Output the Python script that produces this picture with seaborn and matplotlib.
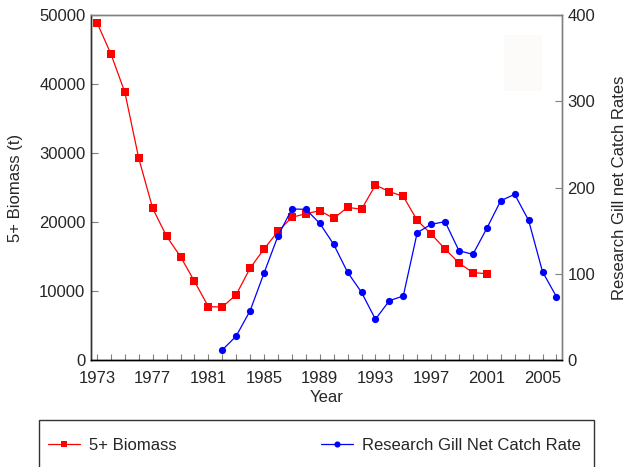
import matplotlib
matplotlib.use("Agg")
import matplotlib.pyplot as plt
from matplotlib.patches import Rectangle
import seaborn as sns

# Stock biomass (t) and research gill net catch rate by year
biomass_years = list(range(1973, 2002))
biomass = [48900, 44350, 38800, 29230, 21980, 17930, 14980, 11400, 7730, 7680,
           9470, 13330, 16090, 18650, 20680, 21200, 21640, 20530, 22130, 21840,
           25360, 24400, 23720, 20240, 18260, 16090, 14060, 12660, 12510]

catch_years = list(range(1982, 2007))
catch_rate = [11.6, 27.8, 57.2, 100.9, 143.8, 175.1, 174.7, 158.5, 134.1, 101.7,
              78.5, 47.2, 68.8, 74.2, 147.6, 157.3, 160.4, 126.7, 122.5, 152.7,
              184.7, 192.1, 162.0, 102.4, 73.4]

year_labels = list(range(1973, 2006, 4))
left_ticks = [0, 10000, 20000, 30000, 40000, 50000]
right_ticks = [0, 100, 200, 300, 400]

sns.set_style("white")
plt.rcParams["font.family"] = ["Liberation Sans", "DejaVu Sans"]

W, H = 629, 467
fig = plt.figure(figsize=(W / 100, H / 100), dpi=100)
ax = fig.add_axes([91 / W, 1 - 360 / H, (562 - 91) / W, (360 - 15) / H])
ax2 = ax.twinx()

sns.lineplot(x=biomass_years, y=biomass, ax=ax, color="#ff0000", marker="s",
             markersize=5.8, markeredgewidth=0, linewidth=0.9, label="5+ Biomass",
             legend=False)
sns.lineplot(x=catch_years, y=catch_rate, ax=ax2, color="#0000ff", marker="o",
             markersize=5.2, markeredgewidth=0, linewidth=0.9,
             label="Research Gill Net Catch Rate", legend=False)

ax.set_xlim(1972.57, 2006.4)
ax.set_ylim(0, 50000)
ax2.set_ylim(0, 400)
ax.set_xticks(year_labels)
ax.set_xticklabels([str(y) for y in year_labels])
ax.set_xticks(range(1973, 2007), minor=True)
ax.set_yticks(left_ticks)
ax.set_yticklabels([str(v) for v in left_ticks])
ax2.set_yticks(right_ticks)
ax2.set_yticklabels([str(v) for v in right_ticks])

fs = 12
ax.tick_params(axis="both", which="both", direction="in", length=5, width=0.8,
               color="#808080", labelsize=fs, pad=4)
ax.tick_params(axis="x", which="both", length=4.5, bottom=True, top=False, pad=8)
ax.tick_params(axis="y", left=True, right=False)
ax2.tick_params(axis="y", direction="in", length=5, width=0.8, color="#808080",
                labelsize=fs, right=True, left=False, pad=4)

for a in (ax, ax2):
    for sp in a.spines.values():
        sp.set_visible(True)
        sp.set_linewidth(1.0)
    a.spines["top"].set_color("#808080")
    a.spines["right"].set_color("#808080")
    a.spines["left"].set_color("#303030")
    a.spines["bottom"].set_color("#000000")

ax.set_xlabel("Year", fontsize=fs, labelpad=2.5)
ax.set_ylabel("5+ Biomass (t)", fontsize=fs, va="center")
ax2.set_ylabel("Research Gill net Catch Rates", fontsize=fs, va="center")
ax.yaxis.set_label_coords((16 - 91) / 471, 0.5)
ax2.yaxis.set_label_coords((619 - 91) / 471, 0.5)

# faint rectangle near the upper right corner
fig.patches.append(Rectangle((504 / W, 1 - 91 / H), 38 / W, 56 / H,
                             transform=fig.transFigure, facecolor="#fcfbf9",
                             edgecolor="none", zorder=0))

# legend frame running past the bottom edge
fig.patches.append(Rectangle((39 / W, -10 / H), (594 - 39) / W, (H + 10 - 420) / H,
                             transform=fig.transFigure, facecolor="white",
                             edgecolor="#333333", linewidth=1.0, zorder=1,
                             clip_on=False))

h1, l1 = ax.get_legend_handles_labels()
h2, l2 = ax2.get_legend_handles_labels()
leg = fig.legend(h1 + h2, l1 + l2, loc="center left", ncol=2,
                 bbox_to_anchor=(48 / W, 1 - 445 / H), fontsize=fs,
                 frameon=False, handlelength=1.9, handletextpad=0.54,
                 columnspacing=8.7, borderpad=0, borderaxespad=0,
                 markerscale=0.85)
leg.set_zorder(2)

fig.savefig("out.png", dpi=100)
